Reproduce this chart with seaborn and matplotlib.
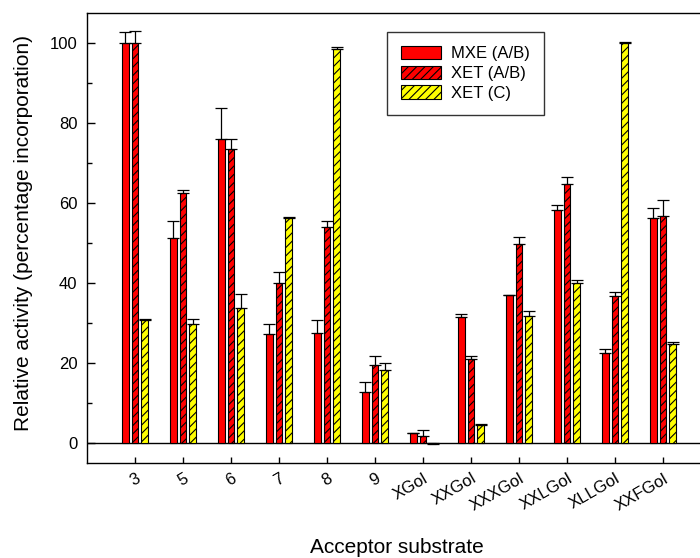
import numpy as np
import pandas as pd
import matplotlib
matplotlib.use("Agg")
import matplotlib.pyplot as plt
import seaborn as sns

# ==========================
# Data
# ==========================
categories = ["3", "5", "6", "7", "8", "9",
              "XGol", "XXGol", "XXXGol", "XXLGol", "XLLGol", "XXFGol"]
series_names = ["MXE (A/B)", "XET (A/B)", "XET (C)"]

mxe = [100, 51.2, 76.0, 27.3, 27.5, 12.6, 2.3, 31.5, 36.9, 58.3, 22.5, 56.2]
mxe_err = [2.9, 4.3, 7.8, 2.3, 3.2, 2.5, 0.2, 0.6, 0.1, 1.1, 0.9, 2.6]

xet_ab = [100, 62.4, 73.6, 39.9, 53.9, 19.4, 1.6, 21.0, 49.8, 64.8, 36.6, 56.7]
xet_ab_err = [3.2, 0.8, 2.4, 2.8, 1.6, 2.2, 1.6, 0.8, 1.8, 1.6, 1.0, 4.0]

xet_c = [30.7, 29.7, 33.7, 56.3, 98.5, 18.2, -0.3, 4.5, 31.7, 40.0, 100.2, 24.7]
xet_c_err = [0.35, 1.3, 3.6, 0.1, 0.7, 1.8, 0.1, 0.1, 1.3, 0.6, 0.2, 0.4]

errors = [mxe_err, xet_ab_err, xet_c_err]

df = pd.DataFrame({
    "Substrate": categories * 3,
    "Series": np.repeat(series_names, len(categories)),
    "Activity": mxe + xet_ab + xet_c,
})

# ==========================
# Style
# ==========================
sns.set_style("ticks", {
    "text.color": "black",
    "axes.labelcolor": "black",
    "axes.edgecolor": "black",
    "xtick.color": "black",
    "ytick.color": "black",
})
plt.rcParams["font.family"] = ["Liberation Sans", "DejaVu Sans"]
plt.rcParams["hatch.linewidth"] = 0.8
plt.rcParams["axes.linewidth"] = 1.0

colors = ["#ff0000", "#ff0000", "#ffff00"]
hatches = ["", "////", "////"]

fig = plt.figure(figsize=(7.0, 5.58), dpi=100)
ax = fig.add_axes([0.1243, 0.1711, 0.8757, 0.8056])

sns.barplot(
    data=df, x="Substrate", y="Activity", hue="Series",
    order=categories, hue_order=series_names,
    palette=colors, width=0.6, gap=0.33,
    errorbar=None, legend=False, ax=ax,
    edgecolor="black", linewidth=0.8, saturation=1,
)

# hatches + one-sided error bars, positioned from the drawn bars
for container, hatch, err in zip(ax.containers, hatches, errors):
    xs, tops = [], []
    for bar in container.patches:
        bar.set_hatch(hatch)
        bar.set_edgecolor("black")
        bar.set_zorder(2)
        xs.append(bar.get_x() + bar.get_width() / 2)
        tops.append(bar.get_y() + bar.get_height())
    ax.errorbar(xs, tops, yerr=[np.zeros(len(err)), err], fmt="none",
                ecolor="black", elinewidth=0.9, capsize=4.6, capthick=0.9,
                zorder=3)

ax.axhline(0, color="black", lw=1.0, zorder=1)

ax.set_xlim(-1.0, 11.77)
ax.set_ylim(-5, 107.6)
ax.set_yticks([0, 20, 40, 60, 80, 100])
ax.set_yticks([10, 30, 50, 70, 90], minor=True)

ax.spines["right"].set_visible(False)
ax.tick_params(axis="y", which="major", direction="in", length=6, width=1,
               labelsize=12, pad=7)
ax.tick_params(axis="y", which="minor", direction="in", length=3.5, width=1)
ax.tick_params(axis="x", direction="in", length=4.5, width=1,
               labelsize=12, pad=6)
for lab in ax.get_xticklabels():
    lab.set_rotation(30)
    lab.set_ha("right")
    lab.set_va("top")
    lab.set_rotation_mode("anchor")

ax.set_xlabel("Acceptor substrate", fontsize=15)
ax.set_ylabel("Relative activity (percentage incorporation)", fontsize=15)
ax.xaxis.set_label_coords(0.506, -0.168)
ax.yaxis.set_label_coords(-0.088, 0.51)

leg = ax.legend(ax.containers, series_names, loc="upper left",
                bbox_to_anchor=(0.489, 0.958), borderaxespad=0,
                fontsize=12, frameon=True, fancybox=False,
                handlelength=2.4, handleheight=0.85, handletextpad=0.6,
                labelspacing=0.25, borderpad=0.85)
leg.get_frame().set_edgecolor("black")
leg.get_frame().set_linewidth(1.0)

fig.savefig("out.png", dpi=100)
plt.close(fig)
